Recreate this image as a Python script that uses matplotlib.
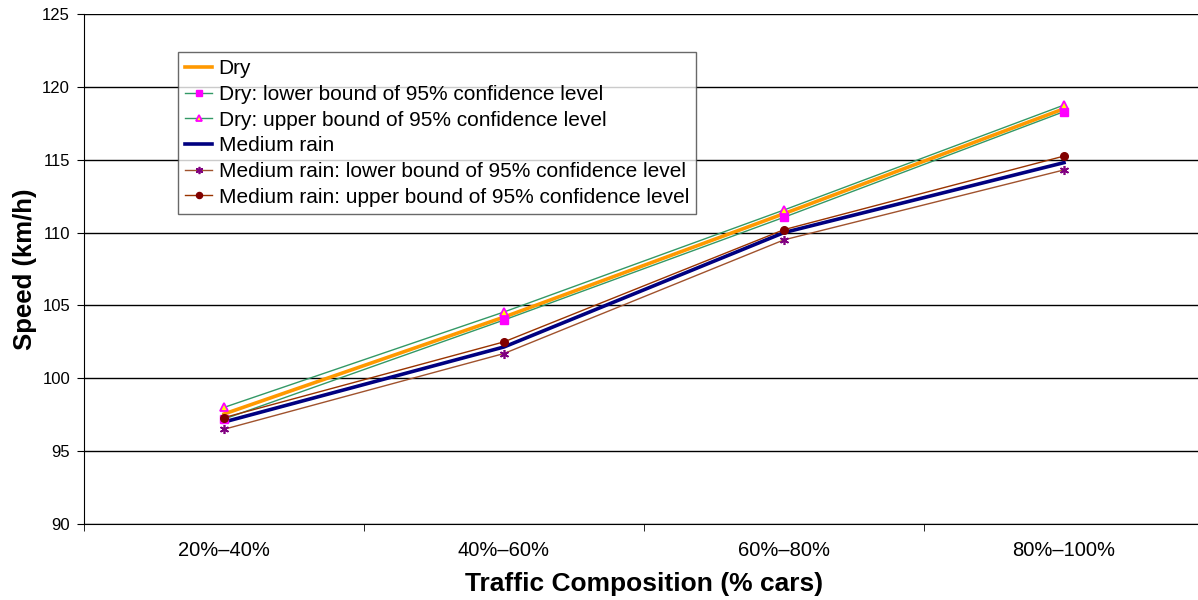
import numpy as np
import matplotlib.pyplot as plt

plt.rcParams['font.family'] = ['Liberation Sans', 'DejaVu Sans']

cats = ['20%\u201340%', '40%\u201360%', '60%\u201380%', '80%\u2013100%']

dry = [97.55, 104.2, 111.3, 118.5]
dry_low = [97.2, 104.0, 111.05, 118.3]
dry_up = [98.0, 104.55, 111.55, 118.75]
rain = [97.0, 102.15, 110.0, 114.8]
rain_low = [96.5, 101.7, 109.5, 114.3]
rain_up = [97.3, 102.5, 110.2, 115.25]

fig = plt.figure(figsize=(11.98, 6), dpi=100)
ax = fig.add_axes([84/1198, 76/600, 1120/1198, 510/600])

x = np.arange(len(cats))
ax.plot(x, dry, color='#FF9900', lw=2.6, label='Dry', zorder=4)
ax.plot(x, dry_low, color='#339966', lw=1.0, marker='s', ms=5.5,
        mfc='#FF00FF', mec='#FF00FF', label='Dry: lower bound of 95% confidence level', zorder=5)
ax.plot(x, dry_up, color='#339966', lw=1.0, marker='^', ms=6,
        mfc='#FFFF00', mec='#FF00FF', mew=1.3, label='Dry: upper bound of 95% confidence level', zorder=5)
ax.plot(x, rain, color='#000080', lw=2.6, label='Medium rain', zorder=4)
ax.plot(x, rain_low, color='#A0522D', lw=1.0, marker=(6, 2, 0), ms=6.5,
        mec='#800080', mew=1.2, label='Medium rain: lower bound of 95% confidence level', zorder=5)
ax.plot(x, rain_up, color='#993300', lw=1.0, marker='o', ms=5.5,
        mfc='#800000', mec='#800000', label='Medium rain: upper bound of 95% confidence level', zorder=5)

ax.set_xlim(-0.5, 3.5)
ax.set_ylim(90, 125)
ax.set_yticks(np.arange(90, 126, 5))
ax.yaxis.grid(True, color='black', lw=1.0)
ax.set_axisbelow(True)
ax.set_xticks(x)
ax.set_xticklabels(cats, fontsize=14.5)
ax.set_xticks(np.arange(-0.5, 3.6, 1), minor=True)
ax.tick_params(axis='x', which='major', length=0, pad=12)
ax.tick_params(axis='x', which='minor', length=5, direction='out')
ax.tick_params(axis='y', labelsize=12, length=5, pad=5, direction='out', color='black')
for s in ['top', 'right']:
    ax.spines[s].set_visible(False)

ax.set_ylabel('Speed (km/h)', fontsize=18.5, fontweight='bold', labelpad=4)
ax.set_xlabel('Traffic Composition (% cars)', fontsize=19, fontweight='bold', labelpad=9)

leg = ax.legend(loc='upper left', bbox_to_anchor=((178 - 84)/1120, 1 - (52 - 14)/510), fontsize=15,
                frameon=True, fancybox=False, edgecolor='#444444', handlelength=1.3,
                handletextpad=0.3, labelspacing=0.32, borderpad=0.35, markerscale=0.8,
                borderaxespad=0)
leg.get_frame().set_linewidth(1.0)

fig.savefig('out.png', dpi=100)
